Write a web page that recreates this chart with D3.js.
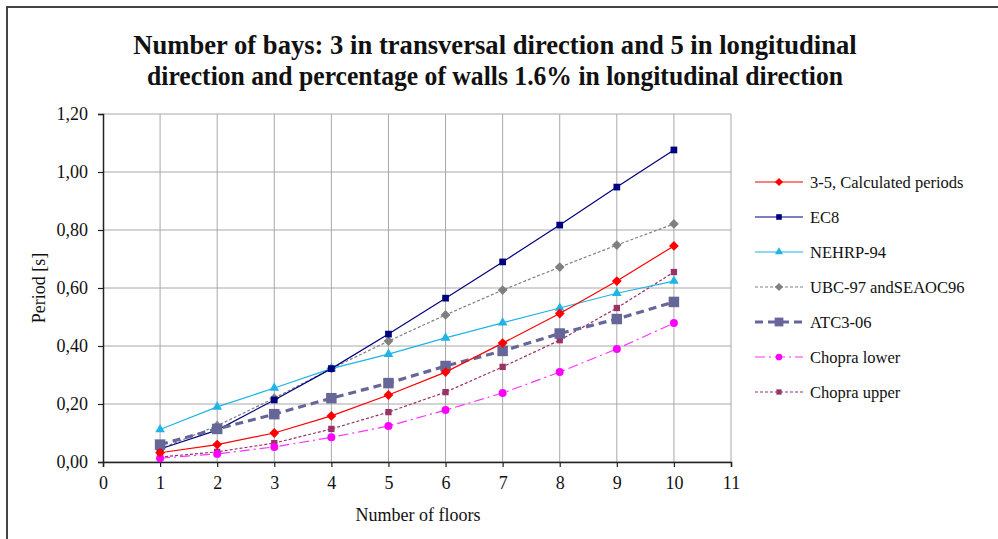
<!DOCTYPE html>
<html>
<head>
<meta charset="utf-8">
<script src="https://cdn.jsdelivr.net/npm/d3@7"></script>
<style>
  html, body { margin: 0; padding: 0; background: #fff; }
  svg { display: block; }
  text { font-family: "Liberation Serif", "Times New Roman", serif; fill: #111; }
</style>
</head>
<body>
<svg id="chart" width="998" height="539"></svg>
<script>
const floors = [1, 2, 3, 4, 5, 6, 7, 8, 9, 10];
const calculated = [0.032, 0.06, 0.10, 0.159, 0.231, 0.31, 0.41, 0.512, 0.624, 0.745];
const ec8 = [0.045, 0.11, 0.214, 0.322, 0.441, 0.565, 0.69, 0.817, 0.948, 1.076];
const nehrp = [0.112, 0.19, 0.255, 0.322, 0.372, 0.428, 0.48, 0.531, 0.582, 0.624];
const ubc = [0.045, 0.125, 0.22, 0.322, 0.417, 0.507, 0.593, 0.672, 0.748, 0.821];
const atc = [0.06, 0.114, 0.165, 0.22, 0.272, 0.331, 0.383, 0.443, 0.493, 0.552];
const chopraLower = [0.013, 0.028, 0.052, 0.085, 0.124, 0.179, 0.238, 0.31, 0.39, 0.479];
const chopraUpper = [0.017, 0.035, 0.065, 0.114, 0.172, 0.241, 0.328, 0.42, 0.531, 0.655];

const seriesNames = ["3-5, Calculated periods", "EC8", "NEHRP-94", "UBC-97  andSEAOC96", "ATC3-06", "Chopra lower", "Chopra upper"];
const xTicks = [0, 1, 2, 3, 4, 5, 6, 7, 8, 9, 10, 11];
const yTicks = [0, 0.2, 0.4, 0.6, 0.8, 1.0, 1.2];
const titleLines = ["Number of bays: 3 in transversal direction and 5 in longitudinal",
                    "direction and percentage of walls 1.6% in longitudinal direction"];
const xTitle = "Number of floors";
const yTitle = "Period [s]";

const seriesValues = [calculated, ec8, nehrp, ubc, atc, chopraLower, chopraUpper];
const styles = [
  { color: "#FF0000", width: 1.2, dash: null, marker: "diamond", size: 48, mcolor: "#FF0000" },
  { color: "#000080", width: 1.2, dash: null, marker: "square", size: 45, mcolor: "#000080" },
  { color: "#1EB4E6", width: 1.2, dash: null, marker: "triangle", size: 40, mcolor: "#1EB4E6" },
  { color: "#808080", width: 1.2, dash: "3,2", marker: "diamond", size: 48, mcolor: "#808080" },
  { color: "#666699", width: 3.2, dash: "8,5", marker: "square", size: 110, mcolor: "#666699" },
  { color: "#FF33FF", width: 1.2, dash: "10,4,2,4", marker: "circle", size: 50, mcolor: "#FF00FF" },
  { color: "#993366", width: 1.2, dash: "3,2", marker: "square", size: 40, mcolor: "#993366" }
];

const svg = d3.select("#chart");
const margin = { left: 103, right: 731, top: 114, bottom: 462 };

const x = d3.scaleLinear().domain([0, 11]).range([margin.left, margin.right]);
const y = d3.scaleLinear().domain([0, 1.2]).range([margin.bottom, margin.top]);

// outer frame (left & top visible)
svg.append("path").attr("d", "M7,539 L7,7 L998,7").attr("fill", "none")
  .attr("stroke", "#444").attr("stroke-width", 2);

// title: serif, emboldened, horizontally condensed to the reference width
const titleWidths = [724, 696];
titleLines.forEach((t, i) => {
  const tx = svg.append("text").attr("x", 0).attr("y", 0).attr("text-anchor", "middle")
    .style("font-size", "27px").style("font-weight", "bold")
    .text(t);
  const w = tx.node().getComputedTextLength() || titleWidths[i];
  tx.attr("transform", `translate(495,${54 + i * 31}) scale(${titleWidths[i] / w},1)`);
});

// gridlines
svg.append("g").selectAll("line.hg").data(yTicks).join("line")
  .attr("x1", margin.left).attr("x2", margin.right)
  .attr("y1", d => y(d)).attr("y2", d => y(d))
  .attr("stroke", "#A8A8A8").attr("stroke-width", 1);
svg.append("g").selectAll("line.vg").data(xTicks.slice(1)).join("line")
  .attr("x1", d => x(d)).attr("x2", d => x(d))
  .attr("y1", margin.top).attr("y2", margin.bottom)
  .attr("stroke", "#A8A8A8").attr("stroke-width", 1);

// axes
const fmt = d => d.toFixed(2).replace(".", ",");
const yAxis = svg.append("g").attr("transform", `translate(${margin.left},0)`)
  .call(d3.axisLeft(y).tickValues(yTicks).tickFormat(fmt).tickSize(5).tickPadding(10));
const xAxis = svg.append("g").attr("transform", `translate(0,${margin.bottom})`)
  .call(d3.axisBottom(x).tickValues(xTicks).tickFormat(d3.format("d")).tickSize(5).tickPadding(9));
[xAxis, yAxis].forEach(a => {
  a.attr("font-family", null).attr("font-size", null);
  a.select(".domain").attr("stroke", "#222").attr("stroke-width", 1.5);
  a.selectAll(".tick line").attr("stroke", "#222").attr("stroke-width", 1.2);
  a.selectAll(".tick text").style("font-size", "18px").attr("fill", "#222");
});

// axis titles
svg.append("text").attr("x", 418).attr("y", 521).attr("text-anchor", "middle")
  .style("font-size", "18px").text(xTitle);
svg.append("text").attr("transform", `translate(45,${y(0.6)}) rotate(-90)`).attr("text-anchor", "middle")
  .style("font-size", "18px").text(yTitle);

const symbolType = { diamond: d3.symbolSquare, square: d3.symbolSquare, triangle: d3.symbolTriangle, circle: d3.symbolCircle };
const symbolRot = { diamond: 45, square: 0, triangle: 0, circle: 0 };

const line = d3.line().x((d, i) => x(floors[i])).y(d => y(d));

// draw series in an order similar to the reference layering
const order = [6, 5, 3, 2, 1, 4, 0];
order.forEach(si => {
  const st = styles[si];
  const g = svg.append("g");
  g.append("path").datum(seriesValues[si]).attr("d", line)
    .attr("fill", "none").attr("stroke", st.color).attr("stroke-width", st.width)
    .attr("stroke-dasharray", st.dash);
  g.selectAll("path.m").data(seriesValues[si]).join("path")
    .attr("transform", (d, i) => `translate(${x(floors[i])},${y(d)}) rotate(${symbolRot[st.marker]})`)
    .attr("d", d3.symbol().type(symbolType[st.marker]).size(st.size))
    .attr("fill", st.mcolor);
});

// legend
const legend = svg.append("g");
seriesNames.forEach((name, i) => {
  const st = styles[i];
  const ly = 182 + i * 35;
  legend.append("line").attr("x1", 755).attr("x2", 803).attr("y1", ly).attr("y2", ly)
    .attr("stroke", st.color).attr("stroke-width", st.width).attr("stroke-dasharray", st.dash);
  legend.append("path").attr("transform", `translate(779,${ly}) rotate(${symbolRot[st.marker]})`)
    .attr("d", d3.symbol().type(symbolType[st.marker]).size(st.size * 0.7))
    .attr("fill", st.mcolor);
  legend.append("text").attr("x", 810).attr("y", ly + 6).style("font-size", "16.5px").text(name);
});
</script>
</body>
</html>
